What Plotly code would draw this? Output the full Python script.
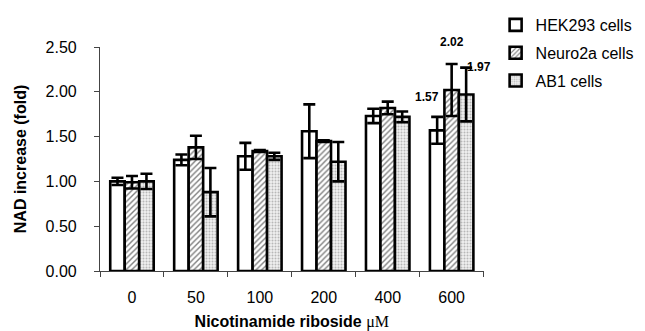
import plotly.graph_objects as go

categories = ["0", "50", "100", "200", "400", "600"]
hek_values = [1.00, 1.24, 1.28, 1.56, 1.73, 1.57]
hek_errors = [0.04, 0.06, 0.15, 0.30, 0.08, 0.15]
neuro_values = [0.99, 1.38, 1.34, 1.45, 1.82, 2.02]
neuro_errors = [0.07, 0.13, 0.01, 0.01, 0.07, 0.29]
ab1_values = [1.00, 0.88, 1.28, 1.22, 1.72, 1.97]
ab1_errors = [0.085, 0.27, 0.04, 0.22, 0.06, 0.30]
series_names = ["HEK293 cells", "Neuro2a cells", "AB1 cells"]
label_category = "600"

FONT = "Arial, Liberation Sans, sans-serif"

fig = go.Figure()
styles = [
    dict(color="white", pattern=dict(shape="")),
    dict(color="white", pattern=dict(shape="/", fgcolor="black", bgcolor="white", size=4, solidity=0.35)),
    dict(color="#e0e0e0", pattern=dict(shape=".", fgcolor="#808080", bgcolor="#f0f0f0", size=3, solidity=0.35)),
]
for i, (name, vals, errs) in enumerate(zip(series_names, [hek_values, neuro_values, ab1_values],
                                          [hek_errors, neuro_errors, ab1_errors])):
    st = styles[i]
    fig.add_trace(go.Bar(
        x=categories, y=vals, name=name, legendgroup=name,
        marker=dict(color=st["color"], pattern=st["pattern"], line=dict(color="black", width=2.6)),
        error_y=dict(type="data", array=errs, visible=True, color="black", thickness=2.6, width=6),
    ))

# value labels for the 600 µM group (category axis -> use index position)
idx = categories.index(label_category)
label_specs = [
    (hek_values[idx], hek_errors[idx], -0.227, -10, 20),
    (neuro_values[idx], neuro_errors[idx], 0.0, 0, 22),
    (ab1_values[idx], ab1_errors[idx], 0.227, 13, 1),
]
for v, e, dx, xs, ys in label_specs:
    fig.add_annotation(
        x=idx + dx, y=v + e, text=f"<b>{v:.2f}</b>", showarrow=False,
        xshift=xs, yshift=ys, font=dict(family=FONT, size=12, color="black"),
    )

fig.update_layout(
    width=645, height=331,
    margin=dict(l=91, r=148, t=39, b=67),
    paper_bgcolor="white", plot_bgcolor="white",
    barmode="group", bargap=0.32, bargroupgap=0,
    font=dict(family=FONT, size=16, color="black"),
    showlegend=True,
    legend=dict(xref="container", yref="container", x=0.756, y=1.03, xanchor="left", yanchor="top",
                font=dict(size=16), tracegroupgap=4, itemwidth=30, traceorder="grouped"),
    xaxis=dict(
        type="category", range=[-0.5, 5.5], showline=True, linecolor="#444", linewidth=1.2,
        ticks="outside", tickson="boundaries", ticklen=5, tickcolor="#444",
        ticklabelstandoff=12, showgrid=False,
        title=dict(text="<b>Nicotinamide riboside </b><span style='font-family:Liberation Serif, Times New Roman, serif'>μM</span>",
                   font=dict(size=16), standoff=10),
    ),
    yaxis=dict(
        range=[0, 2.5], dtick=0.5, tickformat=".2f", showline=True, linecolor="#444", linewidth=1.2,
        ticks="outside", ticklen=5, tickcolor="#444", showgrid=False, zeroline=False,
        ticklabelstandoff=14,
        title=dict(text="<b>NAD increase (fold)</b>", font=dict(size=16), standoff=14),
    ),
)

fig.write_html("out.html")
